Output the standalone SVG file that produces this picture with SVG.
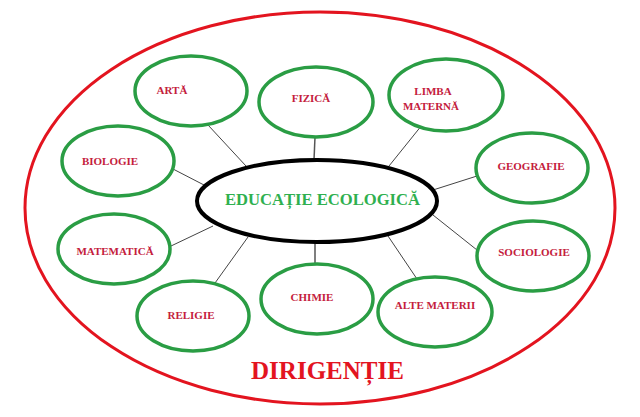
<svg xmlns="http://www.w3.org/2000/svg" width="640" height="417" viewBox="0 0 640 417">
<style>
.bg{fill:#ffffff}
.outer{fill:none;stroke:#e3141f;stroke-width:3}
.hub{fill:#ffffff;stroke:#000000;stroke-width:4}
.leaf{fill:#ffffff;stroke:#2a9d44;stroke-width:3.5}
.con{stroke:#444444;stroke-width:1;fill:none}
.lbl{font-family:"Liberation Serif","Times New Roman",serif;font-weight:bold;font-size:11px;fill:#c4203c;text-anchor:middle}
.hubt{font-family:"Liberation Serif","Times New Roman",serif;font-weight:bold;font-size:17.5px;fill:#2fb04f;text-anchor:middle}
.title{font-family:"Liberation Serif","Times New Roman",serif;font-weight:bold;font-size:25px;fill:#e3141f;text-anchor:middle}
</style>
<rect class="bg" x="0" y="0" width="640" height="417"/>
<g id="dirigentie">
<ellipse class="outer" cx="320" cy="208" rx="295" ry="196"/>
<text class="title" x="327.5" y="379" textLength="153" lengthAdjust="spacingAndGlyphs">DIRIGENȚIE</text>
</g>
<g id="connectors">
<line class="con" x1="208" y1="125" x2="246" y2="166"/>
<line class="con" x1="315" y1="137" x2="314" y2="160" style="stroke-width:1.5;stroke:#555"/>
<line class="con" x1="422" y1="125" x2="389" y2="166"/>
<line class="con" x1="477" y1="176" x2="433" y2="190"/>
<line class="con" x1="173" y1="169" x2="204" y2="185"/>
<line class="con" x1="171" y1="246" x2="213" y2="226"/>
<line class="con" x1="215" y1="283" x2="248" y2="237"/>
<line class="con" x1="315" y1="242" x2="315" y2="265" style="stroke-width:1.5;stroke:#555"/>
<line class="con" x1="388" y1="236" x2="417" y2="279"/>
<line class="con" x1="433" y1="215" x2="477" y2="250"/>
</g>
<g id="hub">
<ellipse class="hub" cx="317" cy="201" rx="120" ry="41"/>
<text class="hubt" x="322.5" y="205" textLength="195" lengthAdjust="spacingAndGlyphs">EDUCAȚIE ECOLOGICĂ</text>
</g>
<g id="arta">
<ellipse class="leaf" cx="191" cy="91" rx="56" ry="35"/>
<text class="lbl" x="172" y="94">ARTĂ</text>
</g>
<g id="fizica">
<ellipse class="leaf" cx="316" cy="102" rx="57" ry="35"/>
<text class="lbl" x="311" y="102">FIZICĂ</text>
</g>
<g id="limba-materna">
<ellipse class="leaf" cx="446" cy="95" rx="57" ry="36"/>
<text class="lbl" x="433" y="95">LIMBA</text>
<text class="lbl" x="431" y="110">MATERNĂ</text>
</g>
<g id="geografie">
<ellipse class="leaf" cx="532" cy="168" rx="56" ry="35"/>
<text class="lbl" x="531" y="170">GEOGRAFIE</text>
</g>
<g id="biologie">
<ellipse class="leaf" cx="118" cy="161" rx="56" ry="35"/>
<text class="lbl" x="110" y="165">BIOLOGIE</text>
</g>
<g id="matematica">
<ellipse class="leaf" cx="114" cy="249" rx="56" ry="35"/>
<text class="lbl" x="115" y="255">MATEMATICĂ</text>
</g>
<g id="religie">
<ellipse class="leaf" cx="193" cy="316" rx="56" ry="35"/>
<text class="lbl" x="191" y="319">RELIGIE</text>
</g>
<g id="chimie">
<ellipse class="leaf" cx="317" cy="299" rx="56" ry="35"/>
<text class="lbl" x="312" y="301">CHIMIE</text>
</g>
<g id="alte-materii">
<ellipse class="leaf" cx="435" cy="312" rx="57" ry="35"/>
<text class="lbl" x="435" y="309">ALTE MATERII</text>
</g>
<g id="sociologie">
<ellipse class="leaf" cx="533" cy="256" rx="56" ry="35"/>
<text class="lbl" x="534" y="256">SOCIOLOGIE</text>
</g>
</svg>
